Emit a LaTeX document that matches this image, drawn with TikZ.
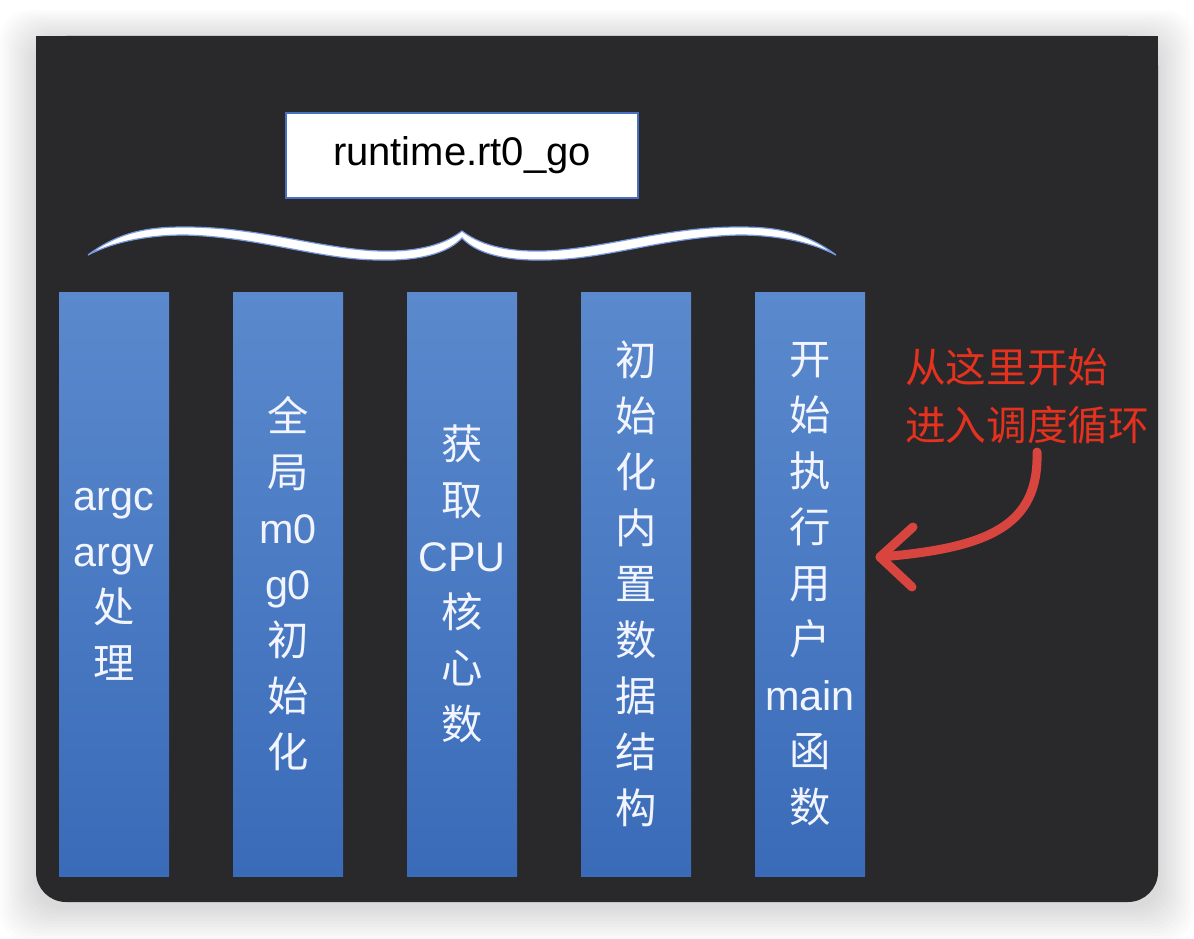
\documentclass[tikz,border=0pt]{standalone}
\usepackage{fontspec}
\setmainfont{Liberation Sans}
\newfontfamily\cjk{Noto Sans CJK SC}
\usetikzlibrary{calc}
\definecolor{bgdark}{HTML}{29282B}
\definecolor{coltop}{HTML}{5A89CD}
\definecolor{colbot}{HTML}{3A6BB8}
\definecolor{boxline}{HTML}{4A6FC0}
\definecolor{redtxt}{HTML}{E5321F}
\definecolor{redarr}{HTML}{D8453F}
\definecolor{bracegl}{HTML}{7A9BE0}
\definecolor{coltxt}{HTML}{F2F5FF}
\begin{document}
\begin{tikzpicture}[x=0.75pt,y=-0.75pt,
  colbox/.style={rectangle, minimum width=82.5pt, minimum height=438pt,
    top color=coltop, bottom color=colbot, draw=none, inner sep=0pt,
    align=center, text=coltxt, font=\fontsize{31}{42}\selectfont},
  topbox/.style={rectangle, fill=white, draw=boxline, line width=1.5pt,
    minimum width=264pt, minimum height=63.75pt, inner sep=0pt,
    font=\fontsize{30}{36}\selectfont, text=black},
  redlbl/.style={inner sep=0pt, align=left, text=redtxt,
    font=\cjk\fontsize{30.5}{43.5}\selectfont},
  redarrow/.style={draw=redarr, line width=6.75pt, line cap=round, line join=round},
  bracestyle/.style={fill=white, draw=bracegl, line width=0.9pt}
]
\useasboundingbox (0,0) rectangle (1194,938);
\fill[white] (0,0) rectangle (1194,938);
% soft shadow
\foreach \i in {1,...,12}{
  \fill[black, opacity=0.011, rounded corners=22.5pt]
    (36-\i*3, 36-\i*2.5+4) rectangle (1158+\i*3, 902+\i*3+4);
}
% dark panel
\fill[bgdark, rounded corners=22.5pt] (36,36) rectangle (1158,902);
\fill[bgdark] (36,36) rectangle (1158,200);

% top box
\node[topbox] (rt) at (462,155.5) {runtime.rt0\_go};

% brace
\path[bracestyle]
  (88,255) .. controls (120,231) and (150,227) .. (185,227)
  .. controls (260,227) and (320,249) .. (380,251)
  .. controls (420,252) and (445,244) .. (462,231)
  .. controls (479,244) and (504,252) .. (544,251)
  .. controls (604,249) and (664,227) .. (739,227)
  .. controls (774,227) and (804,231) .. (836,255)
  .. controls (809,241) and (774,235) .. (739,235)
  .. controls (664,237) and (604,260) .. (544,260)
  .. controls (499,261) and (474,251) .. (462,238)
  .. controls (450,251) and (425,261) .. (380,260)
  .. controls (320,260) and (260,237) .. (185,235)
  .. controls (150,235) and (115,241) .. (88,255) -- cycle;

% columns
\node[colbox] (c1) at (114,584) {argc\\argv\\{\cjk 处}\\{\cjk 理}};
\node[colbox] (c2) at (288,584) {{\cjk 全}\\{\cjk 局}\\m0\\g0\\{\cjk 初}\\{\cjk 始}\\{\cjk 化}};
\node[colbox] (c3) at (462,584) {{\cjk 获}\\{\cjk 取}\\CPU\\{\cjk 核}\\{\cjk 心}\\{\cjk 数}};
\node[colbox] (c4) at (636,584) {{\cjk 初}\\{\cjk 始}\\{\cjk 化}\\{\cjk 内}\\{\cjk 置}\\{\cjk 数}\\{\cjk 据}\\{\cjk 结}\\{\cjk 构}};
\node[colbox] (c5) at (810,584) {{\cjk 开}\\{\cjk 始}\\{\cjk 执}\\{\cjk 行}\\{\cjk 用}\\{\cjk 户}\\main\\{\cjk 函}\\{\cjk 数}};

% red annotation
\node[redlbl, anchor=west] (lbl) at (905,396) {从这里开始\\进入调度循环};

\coordinate (as) at (1037,452);
\coordinate (tip) at (880,557);
\coordinate (h1) at (913,527);
\coordinate (h2) at (912,587);
\draw[redarrow] (as) .. controls (1039,525) and (990,548) .. (tip);
\draw[redarrow] (h1) -- (tip) -- (h2);
\end{tikzpicture}
\end{document}
